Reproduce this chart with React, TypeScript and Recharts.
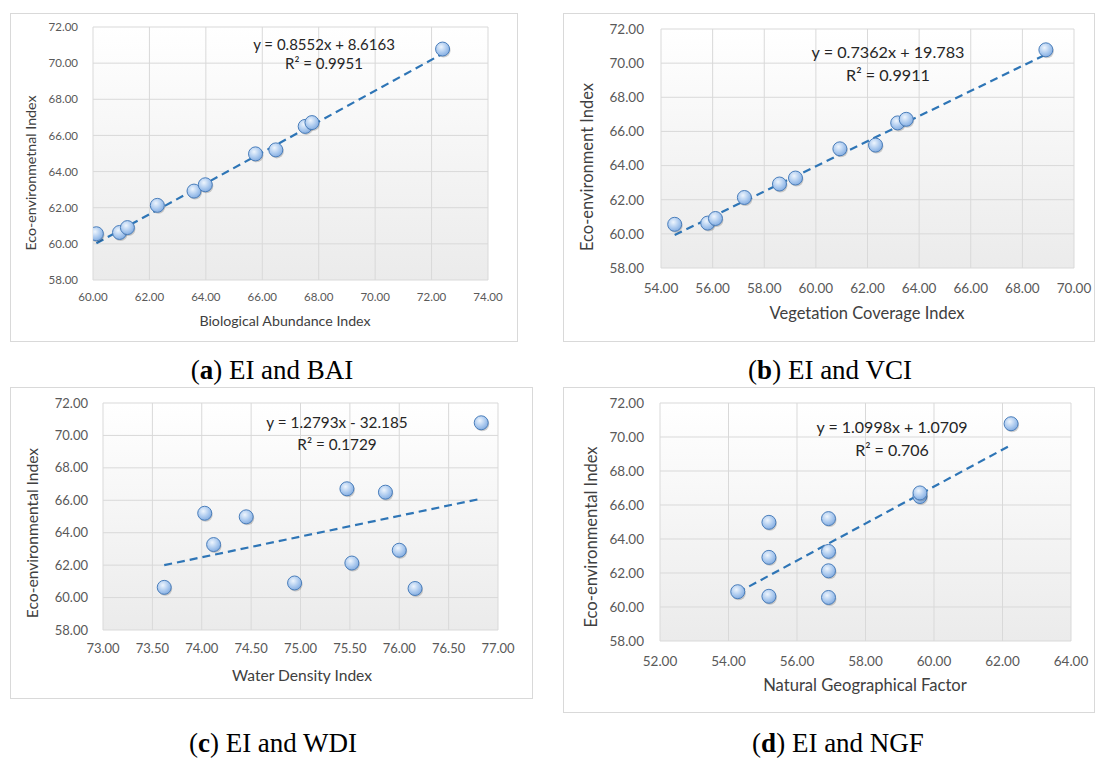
import React from 'react';
import { ScatterChart, Scatter, XAxis, YAxis, CartesianGrid, ReferenceLine } from 'recharts';

// Eco-environmental index (same 11 samples in every panel)
const EI = [60.56, 60.63, 60.9, 62.13, 62.92, 63.27, 64.98, 65.2, 66.5, 66.71, 70.78];

// x values for each panel, in EI order
const BAI = [60.12, 60.94, 61.22, 62.28, 63.58, 63.98, 65.76, 66.48, 67.52, 67.76, 72.39];
const VCI = [54.53, 55.81, 56.11, 57.23, 58.59, 59.21, 60.93, 62.31, 63.17, 63.5, 68.91];
const WDI = [76.16, 73.62, 74.94, 75.52, 76.0, 74.12, 74.45, 74.03, 75.86, 75.47, 76.83];
const NGF = [56.92, 55.18, 54.27, 56.92, 55.18, 56.92, 55.18, 56.92, 59.59, 59.59, 62.25];

const Y_TICKS = [58, 60, 62, 64, 66, 68, 70, 72];
const BAI_TICKS = [60, 62, 64, 66, 68, 70, 72, 74];
const VCI_TICKS = [54, 56, 58, 60, 62, 64, 66, 68, 70];
const WDI_TICKS = [73, 73.5, 74, 74.5, 75, 75.5, 76, 76.5, 77];
const NGF_TICKS = [52, 54, 56, 58, 60, 62, 64];

// dashed linear trendline ends
const TREND_BAI = [{ x: 60.12, y: 60.03 }, { x: 72.39, y: 70.52 }];
const TREND_VCI = [{ x: 54.53, y: 59.93 }, { x: 68.91, y: 70.51 }];
const TREND_WDI = [{ x: 73.62, y: 62.0 }, { x: 76.83, y: 66.1 }];
const TREND_NGF = [{ x: 54.27, y: 60.85 }, { x: 62.25, y: 69.53 }];

const FONT = 'Lato, "Open Sans", sans-serif';

const PANELS = [
  {
    id: 'a', xs: BAI, xTicks: BAI_TICKS, trend: TREND_BAI,
    frame: { x: 10, y: 13, w: 508, h: 329 }, plot: { l: 93, t: 27, r: 488, b: 280 },
    tickFont: 11.5, yGap: 15, xGap: 13,
    xTitle: 'Biological Abundance Index', xTitlePos: [285, 321],
    yTitle: 'Eco-environmetnal Index', yTitlePos: [31, 173], titleFont: 14.2,
    eq: ['y = 0.8552x + 8.6163', 'R² = 0.9951'], eqPos: [324, 44, 63], eqFont: 15,
    label: 'a', caption: 'EI and BAI', capPos: [272, 370],
  },
  {
    id: 'b', xs: VCI, xTicks: VCI_TICKS, trend: TREND_VCI,
    frame: { x: 563, y: 13, w: 532, h: 329 }, plot: { l: 661, t: 29, r: 1074, b: 268 },
    tickFont: 13.5, yGap: 17, xGap: 15,
    xTitle: 'Vegetation Coverage Index', xTitlePos: [867, 313],
    yTitle: 'Eco-environment Index', yTitlePos: [587, 167], titleFont: 16.5,
    eq: ['y = 0.7362x + 19.783', 'R² = 0.9911'], eqPos: [888, 52, 75], eqFont: 16.2,
    label: 'b', caption: 'EI and VCI', capPos: [830, 370],
  },
  {
    id: 'c', xs: WDI, xTicks: WDI_TICKS, trend: TREND_WDI,
    frame: { x: 10, y: 387, w: 523, h: 312 }, plot: { l: 103, t: 403, r: 498, b: 630 },
    tickFont: 13, yGap: 15, xGap: 14,
    xTitle: 'Water Density Index', xTitlePos: [302, 676],
    yTitle: 'Eco-environmental Index', yTitlePos: [33, 533], titleFont: 15.6,
    eq: ['y = 1.2793x - 32.185', 'R² = 0.1729'], eqPos: [337, 423, 445], eqFont: 15.3,
    label: 'c', caption: 'EI and WDI', capPos: [273, 743],
  },
  {
    id: 'd', xs: NGF, xTicks: NGF_TICKS, trend: TREND_NGF,
    frame: { x: 563, y: 387, w: 532, h: 326 }, plot: { l: 660, t: 403, r: 1071, b: 641 },
    tickFont: 13.5, yGap: 16, xGap: 15,
    xTitle: 'Natural Geographical Factor', xTitlePos: [865, 685],
    yTitle: 'Eco-environmental Index', yTitlePos: [591, 537], titleFont: 16.6,
    eq: ['y = 1.0998x + 1.0709', 'R² = 0.706'], eqPos: [892, 427, 450], eqFont: 16,
    label: 'd', caption: 'EI and NGF', capPos: [838, 743],
  },
];

type PanelCfg = (typeof PANELS)[number];

const Marker = (props: any) => {
  const { cx, cy, gid } = props;
  if (cx == null || cy == null) return <g />;
  return (
    <g>
      <circle cx={cx + 1} cy={cy + 1.5} r={7} fill="rgba(0,0,0,0.18)" />
      <circle cx={cx} cy={cy} r={7} fill={`url(#${gid})`} stroke="#4a7ebb" strokeWidth={1} />
    </g>
  );
};

const centered = (x: number, y: number, extra: React.CSSProperties = {}): React.CSSProperties => ({
  position: 'absolute',
  left: x,
  top: y,
  transform: 'translate(-50%, -50%)',
  whiteSpace: 'nowrap',
  lineHeight: 1,
  ...extra,
});

const Panel = ({ p }: { p: PanelCfg }) => {
  const data = p.xs.map((x, i) => ({ x, y: EI[i] }));
  const { frame, plot } = p;
  const xMin = p.xTicks[0];
  const xMax = p.xTicks[p.xTicks.length - 1];
  const tick = { fill: '#595959', fontSize: p.tickFont, fontFamily: FONT };

  return (
    <>
      <div
        style={{
          position: 'absolute', left: frame.x, top: frame.y, width: frame.w, height: frame.h,
          border: '1px solid #d9d9d9', boxSizing: 'border-box',
        }}
      />
      <div style={{ position: 'absolute', left: frame.x, top: frame.y }}>
        <ScatterChart
          width={frame.w}
          height={frame.h}
          margin={{ top: plot.t - frame.y, right: frame.x + frame.w - plot.r, left: 0, bottom: 0 }}
        >
          <defs>
            <linearGradient id={`bg-${p.id}`} x1="0" y1="0" x2="0" y2="1">
              <stop offset="0%" stopColor="#ffffff" />
              <stop offset="100%" stopColor="#ebebeb" />
            </linearGradient>
            <radialGradient id={`mk-${p.id}`} cx="0.4" cy="0.35" r="0.7">
              <stop offset="0%" stopColor="#eef5fd" />
              <stop offset="60%" stopColor="#a9c8ee" />
              <stop offset="100%" stopColor="#7fa9df" />
            </radialGradient>
          </defs>
          <CartesianGrid stroke="#d9d9d9" fill={`url(#bg-${p.id})`} fillOpacity={1} />
          <XAxis
            type="number"
            dataKey="x"
            domain={[xMin, xMax]}
            ticks={p.xTicks}
            interval={0}
            allowDataOverflow
            height={frame.y + frame.h - plot.b}
            axisLine={false}
            tickLine={false}
            tickSize={0}
            tickMargin={p.xGap}
            tick={tick}
            tickFormatter={(v: number) => v.toFixed(2)}
          />
          <YAxis
            type="number"
            dataKey="y"
            domain={[58, 72]}
            ticks={Y_TICKS}
            interval={0}
            allowDataOverflow
            width={plot.l - frame.x}
            axisLine={false}
            tickLine={false}
            tickSize={0}
            tickMargin={p.yGap}
            tick={tick}
            tickFormatter={(v: number) => v.toFixed(2)}
          />
          <ReferenceLine
            segment={[p.trend[0], p.trend[1]]}
            stroke="#2e75b6"
            strokeWidth={2.2}
            strokeDasharray="8 5"
            ifOverflow="visible"
          />
          <Scatter
            data={data}
            isAnimationActive={false}
            shape={(props: any) => <Marker {...props} gid={`mk-${p.id}`} />}
          />
        </ScatterChart>
      </div>

      <div style={centered(p.eqPos[0], p.eqPos[1], { fontFamily: FONT, fontSize: p.eqFont, color: '#262626' })}>
        {p.eq[0]}
      </div>
      <div style={centered(p.eqPos[0], p.eqPos[2], { fontFamily: FONT, fontSize: p.eqFont, color: '#262626' })}>
        {p.eq[1]}
      </div>
      <div style={centered(p.xTitlePos[0], p.xTitlePos[1], { fontFamily: FONT, fontSize: p.titleFont, color: '#404040' })}>
        {p.xTitle}
      </div>
      <div
        style={centered(p.yTitlePos[0], p.yTitlePos[1], {
          fontFamily: FONT, fontSize: p.titleFont, color: '#404040',
          transform: 'translate(-50%, -50%) rotate(-90deg)',
        })}
      >
        {p.yTitle}
      </div>
      <div style={centered(p.capPos[0], p.capPos[1], { fontFamily: '"Liberation Serif", serif', fontSize: 27, color: '#000' })}>
        (<b>{p.label}</b>) {p.caption}
      </div>
    </>
  );
};

export default function App() {
  return (
    <div
      style={{
        position: 'absolute', left: 0, top: 0, width: 1096, height: 758,
        background: '#ffffff', overflow: 'hidden',
      }}
    >
      {PANELS.map((p) => (
        <Panel key={p.id} p={p} />
      ))}
    </div>
  );
}
